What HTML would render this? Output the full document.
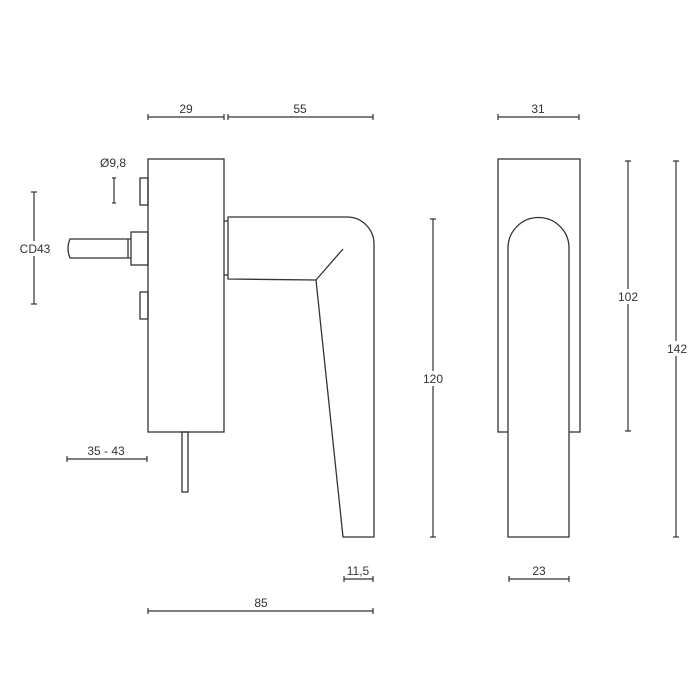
<!DOCTYPE html>
<html><head><style>
html,body{margin:0;padding:0;background:#fff;}
svg{display:block}
text{font-family:"Liberation Sans",sans-serif;font-size:12px;fill:#333;text-anchor:middle}
</style></head><body>
<svg width="700" height="700" viewBox="0 0 700 700" xmlns="http://www.w3.org/2000/svg">
<g fill="none" stroke="#333" stroke-width="1.3">
<rect x="148" y="159" width="76" height="273"/>
<rect x="140" y="178" width="8" height="27"/>
<rect x="140" y="292" width="8" height="27"/>
<rect x="131" y="232" width="17" height="33"/>
<path d="M131 239 L70 239 Q66 248.5 70 258 L131 258"/>
<line x1="128" y1="239" x2="128" y2="258"/>
<rect x="182" y="432" width="6" height="60"/>
<path d="M228 217 L347 217 A27 27 0 0 1 374 244 L374 537 L343 537 L316 280 L228 279 Z"/>
<line x1="316" y1="280" x2="343" y2="249"/>
<line x1="224" y1="221" x2="228" y2="221"/>
<line x1="224" y1="275" x2="228" y2="275"/>
<rect x="498" y="159" width="82" height="273"/>
<path d="M508 537 L508 248 A30.5 30.5 0 0 1 569 248 L569 537 Z" fill="#fff"/>
</g>
<g stroke="#333" stroke-width="1.2">
<line x1="148" y1="117" x2="224" y2="117"/><line x1="148" y1="114" x2="148" y2="120"/><line x1="224" y1="114" x2="224" y2="120"/>
<line x1="228" y1="117" x2="373" y2="117"/><line x1="228" y1="114" x2="228" y2="120"/><line x1="373" y1="114" x2="373" y2="120"/>
<line x1="498" y1="117" x2="579" y2="117"/><line x1="498" y1="114" x2="498" y2="120"/><line x1="579" y1="114" x2="579" y2="120"/>
<line x1="114" y1="178" x2="114" y2="203"/><line x1="112" y1="178" x2="116" y2="178"/><line x1="112" y1="203" x2="116" y2="203"/>
<line x1="34" y1="192" x2="34" y2="304"/><line x1="31" y1="192" x2="37" y2="192"/><line x1="31" y1="304" x2="37" y2="304"/>
<line x1="67" y1="459" x2="147" y2="459"/><line x1="67" y1="456" x2="67" y2="462"/><line x1="147" y1="456" x2="147" y2="462"/>
<line x1="344" y1="579" x2="373" y2="579"/><line x1="344" y1="576" x2="344" y2="582"/><line x1="373" y1="576" x2="373" y2="582"/>
<line x1="148" y1="611" x2="373" y2="611"/><line x1="148" y1="608" x2="148" y2="614"/><line x1="373" y1="608" x2="373" y2="614"/>
<line x1="509" y1="579" x2="569" y2="579"/><line x1="509" y1="576" x2="509" y2="582"/><line x1="569" y1="576" x2="569" y2="582"/>
<line x1="433" y1="219" x2="433" y2="537"/><line x1="430" y1="219" x2="436" y2="219"/><line x1="430" y1="537" x2="436" y2="537"/>
<line x1="628" y1="161" x2="628" y2="431"/><line x1="625" y1="161" x2="631" y2="161"/><line x1="625" y1="431" x2="631" y2="431"/>
<line x1="676" y1="161" x2="676" y2="537"/><line x1="673" y1="161" x2="679" y2="161"/><line x1="673" y1="537" x2="679" y2="537"/>
</g>
<g fill="#fff">
<rect x="420" y="371" width="26" height="15"/>
<rect x="615" y="289" width="26" height="15"/>
<rect x="663" y="341" width="26" height="15"/>
<rect x="17" y="241" width="36" height="15"/>
</g>
<text x="186" y="113">29</text>
<text x="300" y="113">55</text>
<text x="538" y="113">31</text>
<text x="113" y="167">Ø9,8</text>
<text x="35" y="253">CD43</text>
<text x="106" y="455">35 - 43</text>
<text x="433" y="383">120</text>
<text x="628" y="301">102</text>
<text x="677" y="353">142</text>
<text x="358" y="575">11,5</text>
<text x="539" y="575">23</text>
<text x="261" y="607">85</text>
</svg>
</body></html>
